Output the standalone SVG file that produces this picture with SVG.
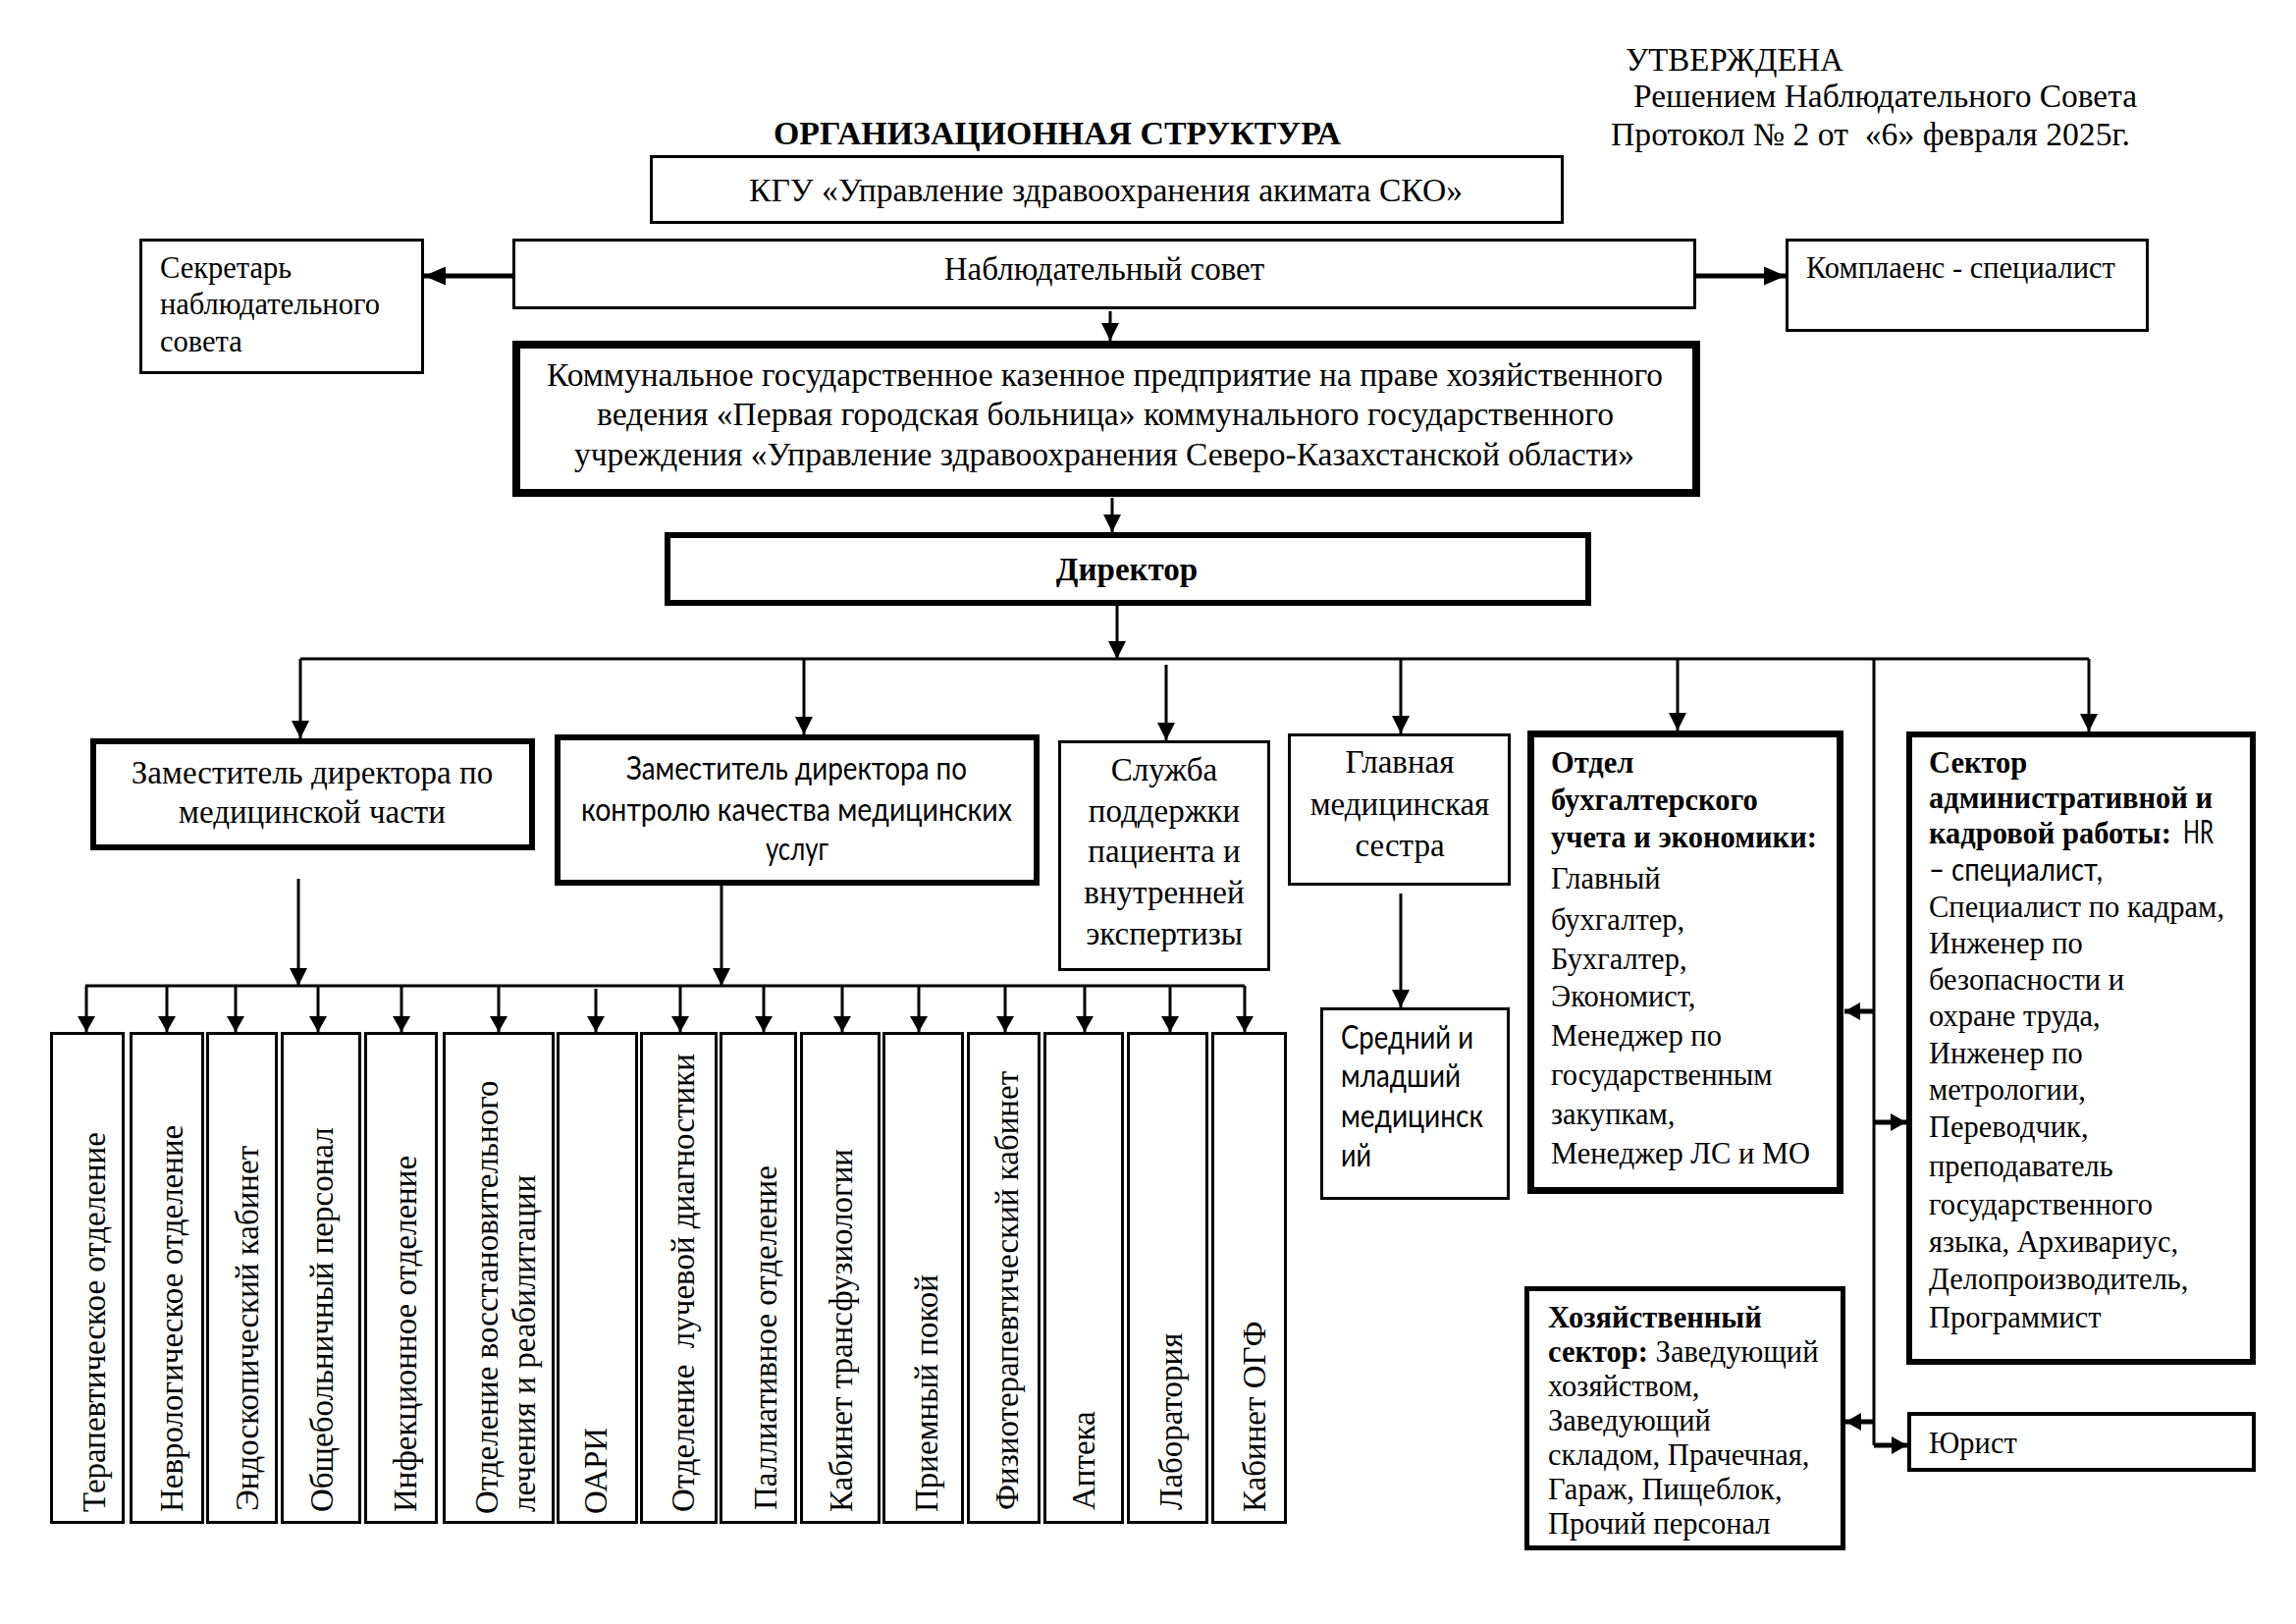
<svg xmlns="http://www.w3.org/2000/svg" width="2339" height="1654" viewBox="0 0 2339 1654">
<style>
.t{font-family:"Liberation Serif","Times New Roman",serif;font-size:33px;fill:#000}
.s{font-size:30.5px}
.b{font-weight:bold}
.c{font-family:Lato,"Open Sans",sans-serif}
.m{text-anchor:middle}
.box{fill:#fff;stroke:#000}
.ln{stroke:#000;stroke-width:3;fill:none}
.thk{stroke-width:5}
</style>
<defs>
<marker id="ah" markerUnits="userSpaceOnUse" markerWidth="18" markerHeight="18" viewBox="0 0 18 18" refX="18" refY="9" orient="auto"><path d="M0,0 L18,9 L0,18 z" fill="#000"/></marker>
<marker id="ahs" markerUnits="userSpaceOnUse" markerWidth="16" markerHeight="18" viewBox="0 0 16 18" refX="16" refY="9" orient="auto"><path d="M0,0 L16,9 L0,18 z" fill="#000"/></marker>
<marker id="aht" markerUnits="userSpaceOnUse" markerWidth="22" markerHeight="19" viewBox="0 0 22 19" refX="22" refY="9.5" orient="auto"><path d="M0,0 L22,9.5 L0,19 z" fill="#000"/></marker>
</defs>
<rect width="2339" height="1654" fill="#fff"/>

<g id="header">
<text class="t" x="1656" y="72" textLength="222" lengthAdjust="spacingAndGlyphs">УТВЕРЖДЕНА</text>
<text class="t" x="1664" y="109" textLength="513" lengthAdjust="spacingAndGlyphs">Решением Наблюдательного Совета</text>
<text class="t" x="1641" y="148" textLength="529" lengthAdjust="spacingAndGlyphs">Протокол № 2 от &#160;«6» февраля 2025г.</text>
<text class="t b" x="788" y="147" textLength="578" lengthAdjust="spacingAndGlyphs">ОРГАНИЗАЦИОННАЯ СТРУКТУРА</text>
</g>

<g id="connectors">
<line class="ln thk" x1="522" y1="281" x2="432" y2="281" marker-end="url(#aht)"/>
<line class="ln thk" x1="1728" y1="281" x2="1819" y2="281" marker-end="url(#aht)"/>
<line class="ln" x1="1131" y1="317" x2="1131" y2="347" marker-end="url(#ah)"/>
<line class="ln" x1="1133" y1="507" x2="1133" y2="542" marker-end="url(#ah)"/>
<line class="ln" x1="1138" y1="617" x2="1138" y2="671" marker-end="url(#ah)"/>
<line class="ln" x1="306" y1="671" x2="2128" y2="671"/>
<line class="ln" x1="306" y1="671" x2="306" y2="752" marker-end="url(#ah)"/>
<line class="ln" x1="819" y1="671" x2="819" y2="748" marker-end="url(#ah)"/>
<line class="ln" x1="1188" y1="677" x2="1188" y2="754" marker-end="url(#ah)"/>
<line class="ln" x1="1427" y1="671" x2="1427" y2="747" marker-end="url(#ah)"/>
<line class="ln" x1="1709" y1="671" x2="1709" y2="744" marker-end="url(#ah)"/>
<line class="ln" x1="2128" y1="671" x2="2128" y2="745" marker-end="url(#ah)"/>
<line class="ln" x1="1909" y1="671" x2="1909" y2="1472"/>
<line class="ln thk" x1="1909" y1="1030" x2="1879" y2="1030" marker-end="url(#ahs)"/>
<line class="ln thk" x1="1909" y1="1143" x2="1942" y2="1143" marker-end="url(#ahs)"/>
<line class="ln thk" x1="1909" y1="1448" x2="1880" y2="1448" marker-end="url(#ahs)"/>
<line class="ln thk" x1="1909" y1="1472" x2="1943" y2="1472" marker-end="url(#ahs)"/>
<line class="ln" x1="1427" y1="910" x2="1427" y2="1026" marker-end="url(#ah)"/>
<line class="ln" x1="304" y1="895" x2="304" y2="1004" marker-end="url(#ah)"/>
<line class="ln" x1="735" y1="902" x2="735" y2="1004" marker-end="url(#ah)"/>
<line class="ln" x1="87" y1="1004" x2="1268" y2="1004"/>
<line class="ln" x1="88" y1="1004" x2="88" y2="1051" marker-end="url(#ahs)"/>
<line class="ln" x1="170" y1="1004" x2="170" y2="1051" marker-end="url(#ahs)"/>
<line class="ln" x1="240" y1="1004" x2="240" y2="1051" marker-end="url(#ahs)"/>
<line class="ln" x1="324" y1="1004" x2="324" y2="1051" marker-end="url(#ahs)"/>
<line class="ln" x1="409" y1="1004" x2="409" y2="1051" marker-end="url(#ahs)"/>
<line class="ln" x1="508" y1="1004" x2="508" y2="1051" marker-end="url(#ahs)"/>
<line class="ln" x1="607" y1="1007" x2="607" y2="1051" marker-end="url(#ahs)"/>
<line class="ln" x1="693" y1="1004" x2="693" y2="1051" marker-end="url(#ahs)"/>
<line class="ln" x1="778" y1="1004" x2="778" y2="1051" marker-end="url(#ahs)"/>
<line class="ln" x1="858" y1="1004" x2="858" y2="1051" marker-end="url(#ahs)"/>
<line class="ln" x1="936" y1="1004" x2="936" y2="1051" marker-end="url(#ahs)"/>
<line class="ln" x1="1024" y1="1004" x2="1024" y2="1051" marker-end="url(#ahs)"/>
<line class="ln" x1="1105" y1="1004" x2="1105" y2="1051" marker-end="url(#ahs)"/>
<line class="ln" x1="1192" y1="1004" x2="1192" y2="1051" marker-end="url(#ahs)"/>
<line class="ln" x1="1268" y1="1004" x2="1268" y2="1051" marker-end="url(#ahs)"/>
</g>

<g id="kgu">
<rect class="box" x="663.5" y="159.5" width="928" height="67" stroke-width="3"/>
<text class="t" x="763" y="205" textLength="727" lengthAdjust="spacingAndGlyphs">КГУ «Управление здравоохранения акимата СКО»</text>
</g>
<g id="nabl">
<rect class="box" x="523.5" y="244.5" width="1203" height="69" stroke-width="3"/>
<text class="t m" x="1125" y="285">Наблюдательный совет</text>
</g>
<g id="secretar">
<rect class="box" x="143.5" y="244.5" width="287" height="135" stroke-width="3"/>
<text class="t s" x="163" y="283">Секретарь</text>
<text class="t s" x="163" y="320">наблюдательного</text>
<text class="t s" x="163" y="358">совета</text>
</g>
<g id="compliance">
<rect class="box" x="1820.5" y="244.5" width="367" height="92" stroke-width="3"/>
<text class="t s" x="1840" y="283">Комплаенс - специалист</text>
</g>
<g id="kgkp">
<rect class="box" x="526" y="351" width="1202" height="151" stroke-width="8"/>
<text class="t" x="557" y="393" textLength="1137" lengthAdjust="spacingAndGlyphs">Коммунальное государственное казенное предприятие на праве хозяйственного</text>
<text class="t" x="608" y="433" textLength="1036" lengthAdjust="spacingAndGlyphs">ведения «Первая городская больница» коммунального государственного</text>
<text class="t" x="585" y="474" textLength="1080" lengthAdjust="spacingAndGlyphs">учреждения «Управление здравоохранения Северо-Казахстанской области»</text>
</g>
<g id="director">
<rect class="box" x="680" y="545" width="938" height="69" stroke-width="6"/>
<text class="t b m" x="1148" y="591">Директор</text>
</g>
<g id="zam-med">
<rect class="box" x="95" y="755" width="447" height="108" stroke-width="6"/>
<text class="t m" x="318" y="798">Заместитель директора по</text>
<text class="t m" x="318" y="838">медицинской части</text>
</g>
<g id="zam-kach">
<rect class="box" x="568" y="751" width="488" height="148" stroke-width="6"/>
<text class="t c" x="638" y="794" font-size="30" textLength="347" lengthAdjust="spacingAndGlyphs">Заместитель директора по</text>
<text class="t c" x="592" y="836" font-size="30" textLength="439" lengthAdjust="spacingAndGlyphs">контролю качества медицинских</text>
<text class="t c" x="780" y="876" font-size="30" textLength="64" lengthAdjust="spacingAndGlyphs">услуг</text>
</g>
<g id="sluzhba">
<rect class="box" x="1079.5" y="755.5" width="213" height="232" stroke-width="3"/>
<text class="t m" x="1186" y="795">Служба</text>
<text class="t m" x="1186" y="837">поддержки</text>
<text class="t m" x="1186" y="878">пациента и</text>
<text class="t m" x="1186" y="920">внутренней</text>
<text class="t m" x="1186" y="962">экспертизы</text>
</g>
<g id="glav-sestra">
<rect class="box" x="1313.5" y="748.5" width="224" height="152" stroke-width="3"/>
<text class="t m" x="1426" y="787">Главная</text>
<text class="t m" x="1426" y="830">медицинская</text>
<text class="t m" x="1426" y="872">сестра</text>
</g>
<g id="sredniy">
<rect class="box" x="1346.5" y="1027.5" width="190" height="193" stroke-width="3"/>
<text class="t c" x="1366" y="1068" font-size="29" textLength="135" lengthAdjust="spacingAndGlyphs">Средний и</text>
<text class="t c" x="1366" y="1107" font-size="29" textLength="122" lengthAdjust="spacingAndGlyphs">младший</text>
<text class="t c" x="1366" y="1148" font-size="29" textLength="145" lengthAdjust="spacingAndGlyphs">медицинск</text>
<text class="t c" x="1366" y="1188" font-size="29" textLength="31" lengthAdjust="spacingAndGlyphs">ий</text>
</g>
<g id="buh">
<rect class="box" x="1559.5" y="747.5" width="315" height="465" stroke-width="7"/>
<text class="t s b" x="1580" y="787">Отдел</text>
<text class="t s b" x="1580" y="825">бухгалтерского</text>
<text class="t s b" x="1580" y="863">учета и экономики:</text>
<text class="t s" x="1580" y="905">Главный</text>
<text class="t s" x="1580" y="947">бухгалтер,</text>
<text class="t s" x="1580" y="987">Бухгалтер,</text>
<text class="t s" x="1580" y="1025">Экономист,</text>
<text class="t s" x="1580" y="1065">Менеджер по</text>
<text class="t s" x="1580" y="1105">государственным</text>
<text class="t s" x="1580" y="1145">закупкам,</text>
<text class="t s" x="1580" y="1185">Менеджер ЛС и МО</text>
</g>
<g id="admin">
<rect class="box" x="1945" y="748" width="350" height="639" stroke-width="6"/>
<text class="t s b" x="1965" y="787">Сектор</text>
<text class="t s b" x="1965" y="823">административной и</text>
<text class="t s b" x="1965" y="859">кадровой работы:</text>
<text class="t c" x="2224" y="859" font-size="29" textLength="31" lengthAdjust="spacingAndGlyphs">HR</text>
<text class="t c" x="1965" y="897" font-size="29" textLength="177" lengthAdjust="spacingAndGlyphs">– специалист,</text>
<text class="t s" x="1965" y="934">Специалист по кадрам,</text>
<text class="t s" x="1965" y="971">Инженер по</text>
<text class="t s" x="1965" y="1008">безопасности и</text>
<text class="t s" x="1965" y="1045">охране труда,</text>
<text class="t s" x="1965" y="1083">Инженер по</text>
<text class="t s" x="1965" y="1120">метрологии,</text>
<text class="t s" x="1965" y="1158">Переводчик,</text>
<text class="t s" x="1965" y="1198">преподаватель</text>
<text class="t s" x="1965" y="1237">государственного</text>
<text class="t s" x="1965" y="1275">языка, Архивариус,</text>
<text class="t s" x="1965" y="1313">Делопроизводитель,</text>
<text class="t s" x="1965" y="1352">Программист</text>
</g>
<g id="hoz">
<rect class="box" x="1555.5" y="1312.5" width="322" height="264" stroke-width="5"/>
<text class="t s b" x="1577" y="1352">Хозяйственный</text>
<text class="t s" x="1577" y="1387"><tspan font-weight="bold">сектор:</tspan> Заведующий</text>
<text class="t s" x="1577" y="1422">хозяйством,</text>
<text class="t s" x="1577" y="1457">Заведующий</text>
<text class="t s" x="1577" y="1492">складом, Прачечная,</text>
<text class="t s" x="1577" y="1527">Гараж, Пищеблок,</text>
<text class="t s" x="1577" y="1562">Прочий персонал</text>
</g>
<g id="yurist">
<rect class="box" x="1945" y="1440" width="351" height="57" stroke-width="4"/>
<text class="t s" x="1965" y="1480">Юрист</text>
</g>

<g id="otd-1"><rect class="box" x="52.5" y="1052.5" width="73" height="498" stroke-width="3"/><text class="t" transform="translate(107,1540) rotate(-90)">Терапевтическое отделение</text></g>
<g id="otd-2"><rect class="box" x="133.5" y="1052.5" width="73" height="498" stroke-width="3"/><text class="t" transform="translate(186,1540) rotate(-90)">Неврологическое отделение</text></g>
<g id="otd-3"><rect class="box" x="211.5" y="1052.5" width="70" height="498" stroke-width="3"/><text class="t" transform="translate(263,1539) rotate(-90)">Эндоскопический кабинет</text></g>
<g id="otd-4"><rect class="box" x="287.5" y="1052.5" width="79" height="498" stroke-width="3"/><text class="t" transform="translate(339,1540) rotate(-90)">Общебольничный персонал</text></g>
<g id="otd-5"><rect class="box" x="372.5" y="1052.5" width="72" height="498" stroke-width="3"/><text class="t" transform="translate(424,1540) rotate(-90)">Инфекционное отделение</text></g>
<g id="otd-6"><rect class="box" x="452.5" y="1052.5" width="111" height="498" stroke-width="3"/><text class="t" transform="translate(507,1542) rotate(-90)">Отделение восстановительного</text><text class="t" transform="translate(545,1540) rotate(-90)">лечения и реабилитации</text></g>
<g id="otd-7"><rect class="box" x="568.5" y="1052.5" width="80" height="498" stroke-width="3"/><text class="t" transform="translate(618,1542) rotate(-90)">ОАРИ</text></g>
<g id="otd-8"><rect class="box" x="653.5" y="1052.5" width="76" height="498" stroke-width="3"/><text class="t" transform="translate(707,1540) rotate(-90)">Отделение &#160;лучевой диагностики</text></g>
<g id="otd-9"><rect class="box" x="734.5" y="1052.5" width="76" height="498" stroke-width="3"/><text class="t" transform="translate(791,1538) rotate(-90)">Паллиативное отделение</text></g>
<g id="otd-10"><rect class="box" x="816.5" y="1052.5" width="79" height="498" stroke-width="3"/><text class="t" transform="translate(868,1540) rotate(-90)">Кабинет трансфузиологии</text></g>
<g id="otd-11"><rect class="box" x="900.5" y="1052.5" width="80" height="498" stroke-width="3"/><text class="t" transform="translate(955,1540) rotate(-90)">Приемный покой</text></g>
<g id="otd-12"><rect class="box" x="986.5" y="1052.5" width="72" height="498" stroke-width="3"/><text class="t" transform="translate(1037,1538) rotate(-90)">Физиотерапевтический кабинет</text></g>
<g id="otd-13"><rect class="box" x="1064.5" y="1052.5" width="79" height="498" stroke-width="3"/><text class="t" transform="translate(1115,1538) rotate(-90)">Аптека</text></g>
<g id="otd-14"><rect class="box" x="1149.5" y="1052.5" width="80" height="498" stroke-width="3"/><text class="t" transform="translate(1204,1538) rotate(-90)">Лаборатория</text></g>
<g id="otd-15"><rect class="box" x="1235.5" y="1052.5" width="74" height="498" stroke-width="3"/><text class="t" transform="translate(1289,1540) rotate(-90)">Кабинет ОГФ</text></g>
</svg>
